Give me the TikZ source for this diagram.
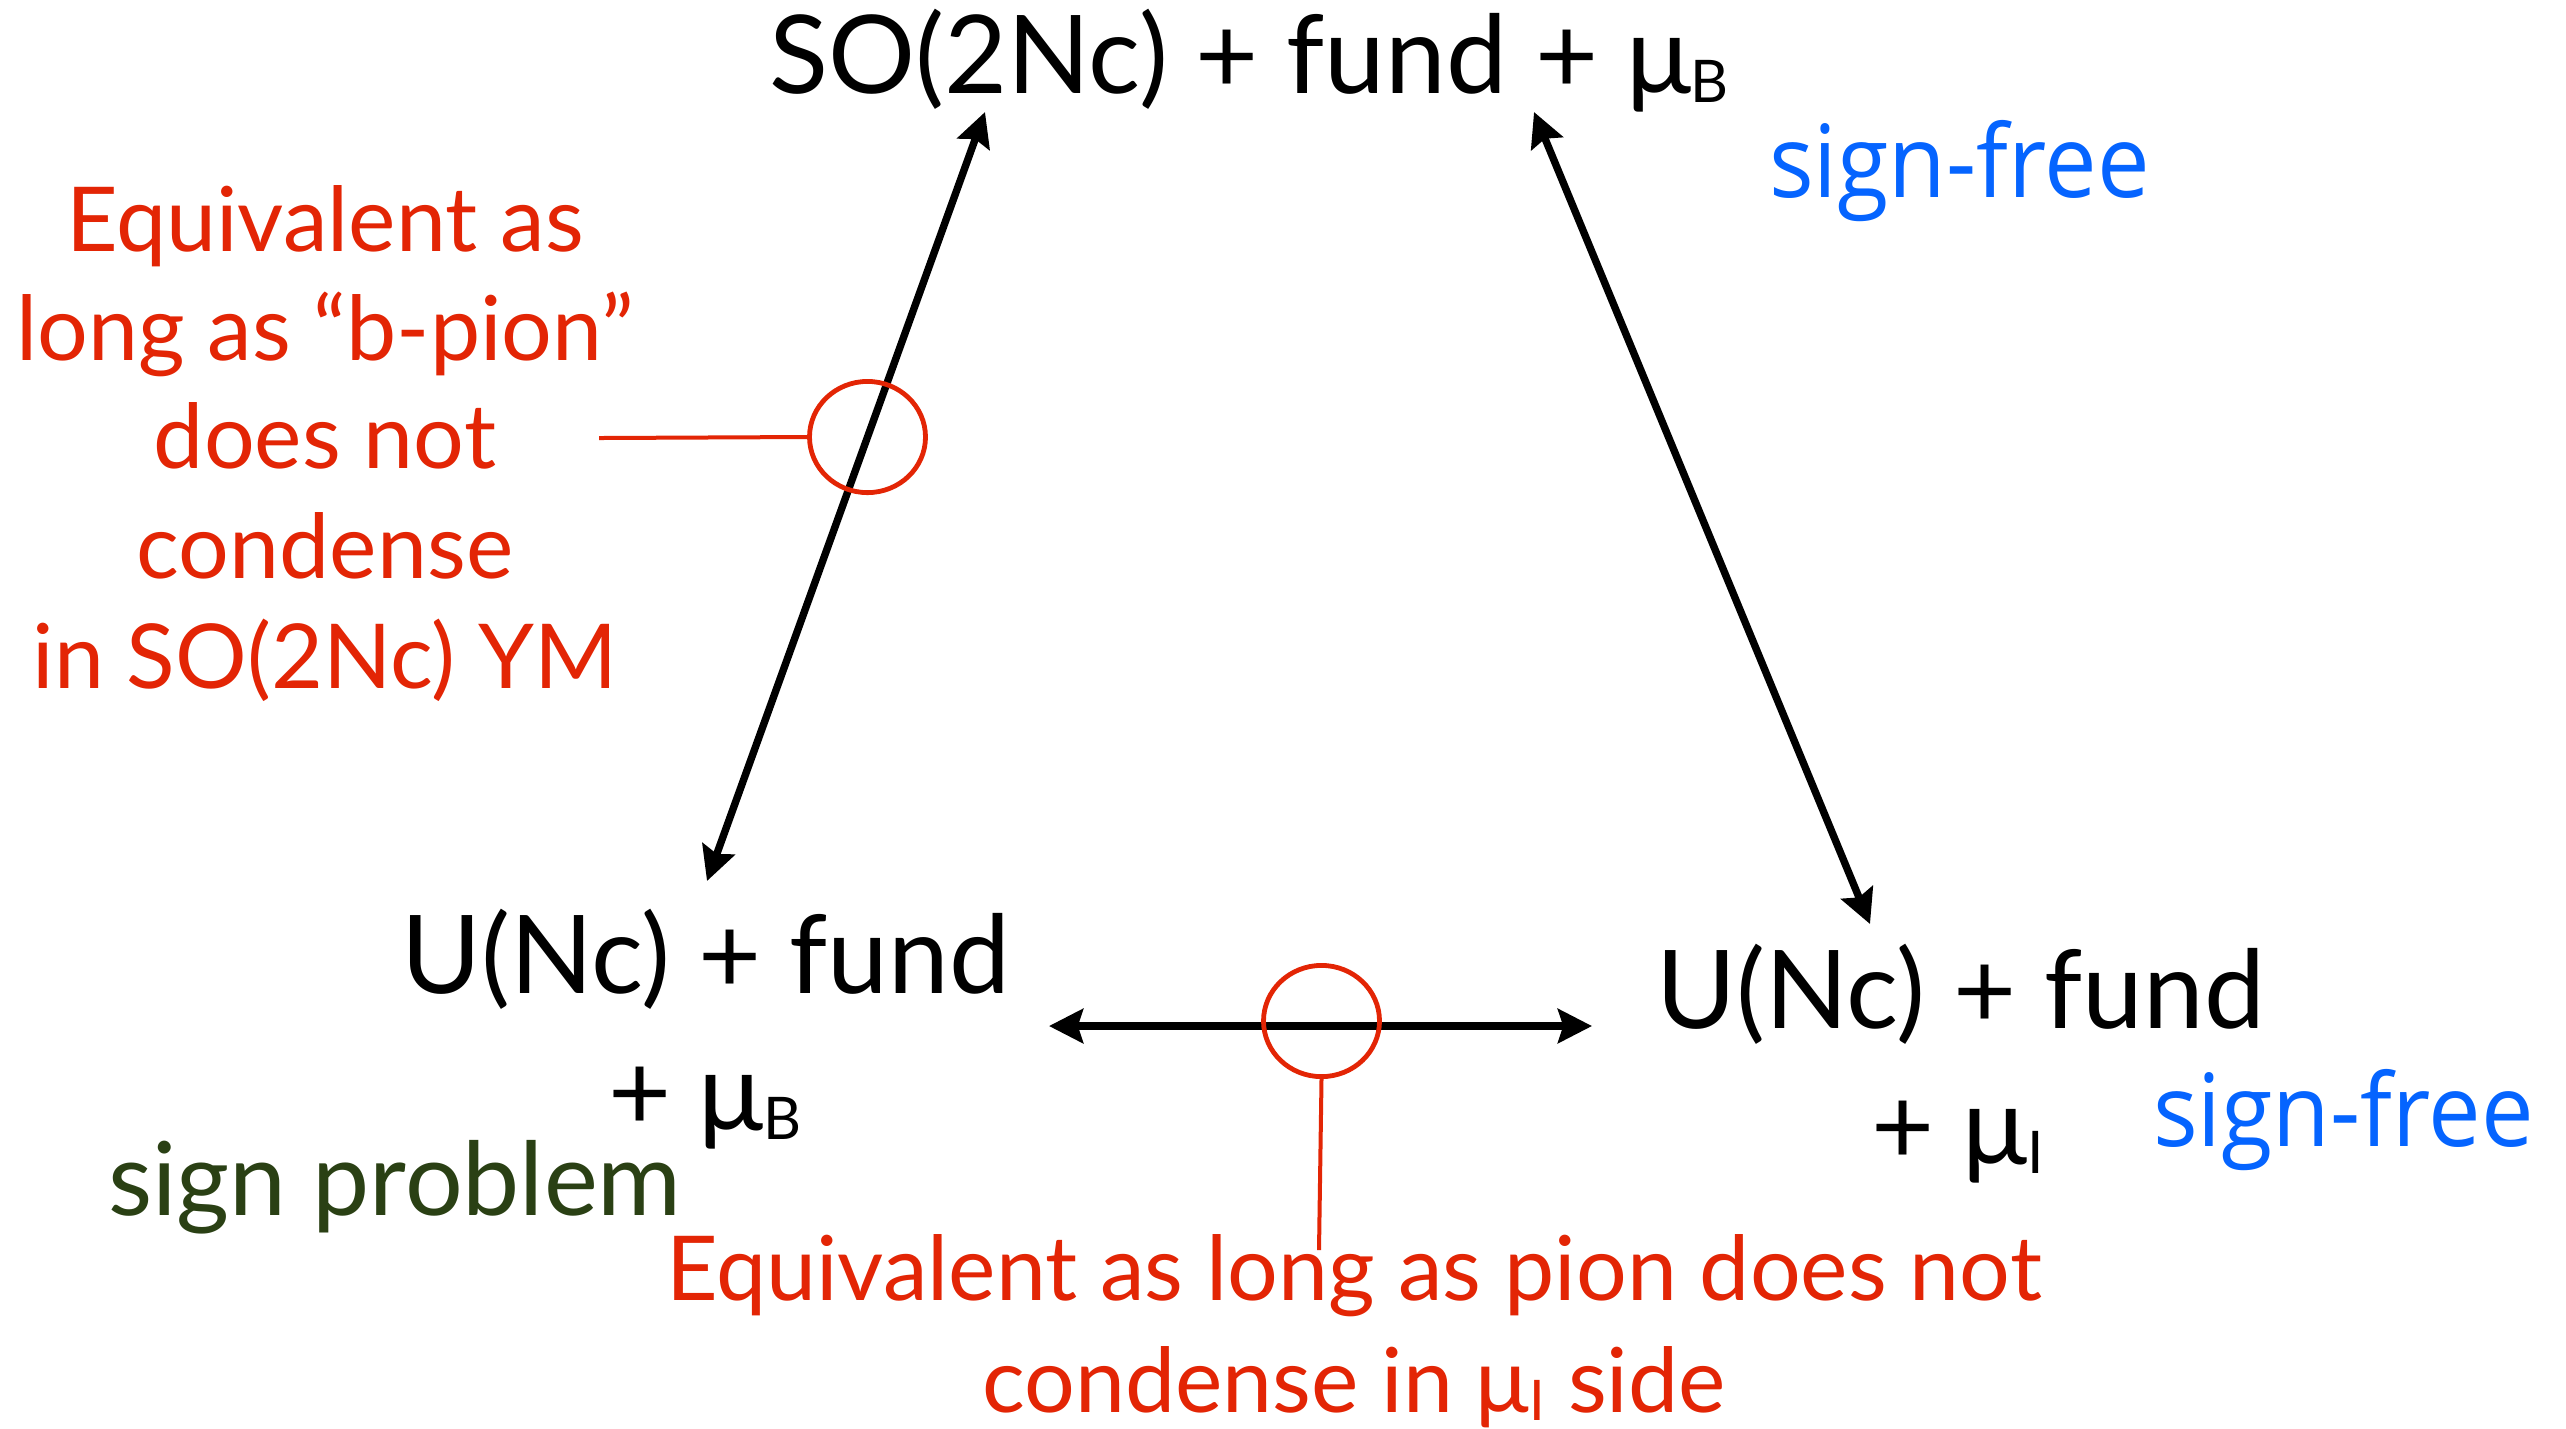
\documentclass[tikz,border=0pt]{standalone}
\usepackage{fontspec}
\setmainfont{Lato}
\newfontfamily\sfreefont[FakeStretch=0.93]{Open Sans}
\usetikzlibrary{arrows.meta,shapes.geometric}
\definecolor{kred}{RGB}{227,37,5}
\definecolor{kblue}{RGB}{5,100,255}
\definecolor{kgreen}{RGB}{42,64,20}
\newcommand{\lowsub}[3]{{\fontsize{#1}{#1}\selectfont\raisebox{-#2}{#3}}}
\begin{document}
\begin{tikzpicture}[x=0.25pt,y=-0.25pt,
  lbl/.style={inner sep=0,outer sep=0,anchor=base},
  blacktxt/.style={lbl,font=\fontsize{27.2pt}{32pt}\selectfont},
  redtxt/.style={lbl,text=kred,font=\fontsize{22.4pt}{27pt}\selectfont},
  bluetxt/.style={lbl,text=kblue,font=\sfreefont\fontsize{25.2pt}{30pt}\selectfont},
  greentxt/.style={lbl,text=kgreen,font=\fontsize{25.5pt}{30pt}\selectfont},
  arr/.style={line width=1.85pt,{Stealth[length=8.5pt,width=8.5pt,inset=1.3pt]}-{Stealth[length=8.5pt,width=8.5pt,inset=1.3pt]}},
  ring/.style={draw=kred,line width=1.2pt,ellipse,minimum width=29pt,minimum height=27.8pt,inner sep=0},
  lead/.style={draw=kred,line width=1pt}]
\useasboundingbox (0,0) rectangle (2566,1428);
\fill[white] (0,0) rectangle (2566,1428);

% texts
\node[blacktxt,anchor=base west] (top) at (769,93) {SO(2Nc) + fund + μ\lowsub{14.7pt}{2.3pt}{B}};
\node[bluetxt,anchor=base west] (sf1) at (1769,197) {sign-free};

\node[redtxt] (n1) at (325,251) {Equivalent as};
\node[redtxt] (n2) at (325,360) {long as “b-pion”};
\node[redtxt] (n3) at (325,468) {does not};
\node[redtxt] (n4) at (325,578) {condense};
\node[redtxt] (n5) at (325,688) {in SO(2Nc) YM};

\node[blacktxt,anchor=base west] (ul1) at (401,993) {U(Nc) + fund};
\node[blacktxt] (ul2) at (705,1130) {+ μ\lowsub{14.7pt}{2.4pt}{B}};
\node[greentxt,anchor=base west] (sp) at (108,1215) {sign problem};

\node[blacktxt,anchor=base west] (ur1) at (1656,1028) {U(Nc) + fund};
\node[blacktxt] (ur2) at (1958,1164) {+ μ\lowsub{14.7pt}{2.4pt}{I}};
\node[bluetxt,anchor=base west] (sf2) at (2153,1146) {sign-free};

\node[redtxt] (b1) at (1354,1300) {Equivalent as long as pion does not};
\node[redtxt] (b2) at (1354,1412) {condense in μ\lowsub{14pt}{2pt}{I} side};

% arrow ends
\coordinate (aL1) at (985,112);
\coordinate (aL2) at (707,881);
\coordinate (aR1) at (1534,112);
\coordinate (aR2) at (1870,924);
\coordinate (aH1) at (1049,1026);
\coordinate (aH2) at (1592,1026);

\draw[arr] (aL1) -- (aL2);
\draw[arr] (aR1) -- (aR2);
\draw[arr] (aH1) -- (aH2);

% rings and leaders
\node[ring] (ring1) at (867.5,437) {};
\node[ring] (ring2) at (1321.5,1021) {};
\coordinate (lead1) at (599,438);
\coordinate (lead2) at (1319,1250);
\draw[lead] (lead1) -- (ring1.west);
\draw[lead] (ring2.south) -- (lead2);
\end{tikzpicture}
\end{document}
